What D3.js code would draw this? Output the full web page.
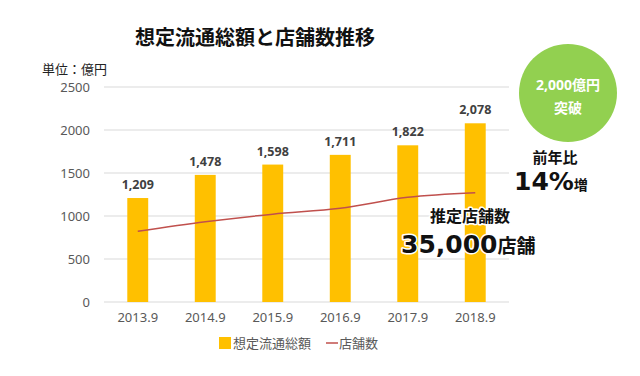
<!DOCTYPE html>
<html>
<head>
<meta charset="utf-8">
<script src="https://cdn.jsdelivr.net/npm/d3@7"></script>
<style>
  body { margin: 0; background: #fff; }
  text { font-family: "Noto Sans", "Noto Sans CJK JP", sans-serif; }
</style>
</head>
<body>
<div id="chart"></div>
<script>
const categories = ['2013.9', '2014.9', '2015.9', '2016.9', '2017.9', '2018.9'];
const amounts = [1209, 1478, 1598, 1711, 1822, 2078];        // 想定流通総額 (億円)
const stores = [23000, 26100, 28600, 30500, 34100, 35600];   // 店舗数 (estimated, hidden axis)
const yTicks = [0, 500, 1000, 1500, 2000, 2500];

const width = 640, height = 376;
const margin = { top: 87, right: 131, bottom: 74, left: 104 };

const svg = d3.select('#chart').append('svg')
  .attr('width', width)
  .attr('height', height);

const x = d3.scaleBand().domain(categories)
  .range([margin.left, width - margin.right])
  .paddingInner(0.69).paddingOuter(0.345);
const y = d3.scaleLinear().domain([0, 2500]).range([height - margin.bottom, margin.top]);
const y2 = d3.scaleLinear().domain([0, 70000]).range([height - margin.bottom, margin.top]);

// grid
svg.append('g')
  .selectAll('line')
  .data(yTicks)
  .join('line')
  .attr('x1', margin.left).attr('x2', width - margin.right)
  .attr('y1', d => y(d)).attr('y2', d => y(d))
  .attr('stroke', '#d9d9d9').attr('stroke-width', 1);

// y axis
const yAxis = svg.append('g')
  .attr('transform', `translate(${margin.left - 14},0)`)
  .call(d3.axisLeft(y).tickValues(yTicks).tickFormat(d3.format('d')).tickSize(0).tickPadding(0));
yAxis.select('.domain').remove();
yAxis.selectAll('text').attr('fill', '#595959').style('font-size', '13px');

// x axis
const xAxis = svg.append('g')
  .attr('transform', `translate(0,${height - margin.bottom})`)
  .call(d3.axisBottom(x).tickSize(0).tickPadding(11));
xAxis.select('.domain').remove();
xAxis.selectAll('text').attr('fill', '#595959').style('font-size', '13px');

// bars
svg.append('g')
  .selectAll('rect')
  .data(amounts)
  .join('rect')
  .attr('x', (d, i) => x(categories[i]))
  .attr('y', d => y(d))
  .attr('width', x.bandwidth())
  .attr('height', d => y(0) - y(d))
  .attr('fill', '#ffc000');

// bar labels
svg.append('g')
  .selectAll('text')
  .data(amounts)
  .join('text')
  .attr('x', (d, i) => x(categories[i]) + x.bandwidth() / 2)
  .attr('y', d => y(d) - 9)
  .attr('text-anchor', 'middle')
  .attr('fill', '#404040')
  .style('font-size', '12.5px')
  .style('font-weight', 'bold')
  .text(d => d3.format(',')(d));

// store line
const line = d3.line()
  .x((d, i) => x(categories[i]) + x.bandwidth() / 2)
  .y(d => y2(d))
  .curve(d3.curveMonotoneX);
svg.append('path')
  .datum(stores)
  .attr('d', line)
  .attr('fill', 'none')
  .attr('stroke', '#c0504d')
  .attr('stroke-width', 1.5);

// title
svg.append('text')
  .attr('x', 255).attr('y', 45)
  .attr('text-anchor', 'middle')
  .style('font-size', '20px').style('font-weight', 'bold')
  .attr('fill', '#111')
  .text('想定流通総額と店舗数推移');

svg.append('text')
  .attr('x', 42).attr('y', 74)
  .style('font-size', '13px')
  .attr('fill', '#222')
  .text('単位：億円');

// legend
const lg = svg.append('g').attr('transform', 'translate(219,343)');
lg.append('rect').attr('x', 0).attr('y', -6).attr('width', 12).attr('height', 12).attr('fill', '#ffc000');
lg.append('text').attr('x', 14).attr('y', 5).style('font-size', '13px').attr('fill', '#595959').text('想定流通総額');
lg.append('line').attr('x1', 107).attr('x2', 119).attr('y1', 0).attr('y2', 0)
  .attr('stroke', '#c0504d').attr('stroke-width', 1.5);
lg.append('text').attr('x', 120).attr('y', 5).style('font-size', '13px').attr('fill', '#595959').text('店舗数');

// green badge
svg.append('circle').attr('cx', 568).attr('cy', 93).attr('r', 49).attr('fill', '#92d050');
svg.append('text').attr('x', 568).attr('y', 90).attr('text-anchor', 'middle')
  .attr('fill', '#fff').style('font-size', '14px').style('font-weight', 'bold').text('2,000億円');
svg.append('text').attr('x', 568).attr('y', 113).attr('text-anchor', 'middle')
  .attr('fill', '#fff').style('font-size', '14px').style('font-weight', 'bold').text('突破');

// annotations
const halo = sel => sel.attr('stroke', '#fff').attr('stroke-width', 3).attr('paint-order', 'stroke')
  .attr('stroke-linejoin', 'round');

svg.append('text').attr('x', 555).attr('y', 163).attr('text-anchor', 'middle')
  .attr('fill', '#111').style('font-size', '15px').style('font-weight', 'bold').text('前年比');
const t14 = svg.append('text').attr('x', 514).attr('y', 190).attr('fill', '#111').style('font-weight', 'bold');
t14.append('tspan').style('font-size', '25px').style('font-family', '"DejaVu Sans", sans-serif').text('14%');
t14.append('tspan').style('font-size', '14px').text('増');

svg.append('text').attr('x', 470).attr('y', 222).attr('text-anchor', 'middle')
  .attr('fill', '#111').style('font-size', '16px').style('font-weight', 'bold').text('推定店舗数').call(halo);
const t35 = svg.append('text').attr('x', 401).attr('y', 253).attr('fill', '#111').style('font-weight', 'bold').call(halo);
t35.append('tspan').style('font-size', '25px').style('font-family', '"DejaVu Sans", sans-serif').text('35,000');
t35.append('tspan').style('font-size', '19px').text('店舗');
</script>
</body>
</html>
